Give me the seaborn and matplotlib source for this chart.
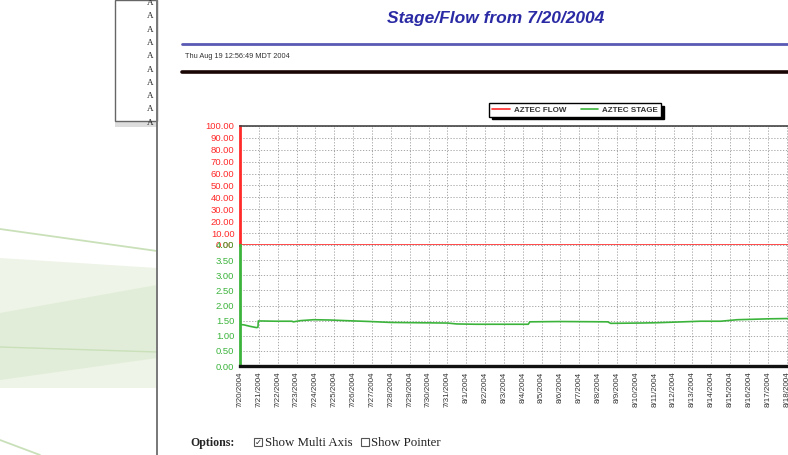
import pandas as pd
import seaborn as sns
import numpy as np
import matplotlib.pyplot as plt
import matplotlib.dates as mdates
from matplotlib.patches import Polygon, Rectangle
from matplotlib.ticker import FixedLocator

sns.set_style('white')
plt.rcParams['font.family'] = ['Liberation Sans', 'DejaVu Sans']

# stage readings (feet)
stage_times = ['2004-07-20 00:00', '2004-07-20 05:00', '2004-07-20 13:00', '2004-07-20 21:00',
               '2004-07-20 22:50', '2004-07-20 23:20', '2004-07-21 22:00', '2004-07-22 18:00',
               '2004-07-22 20:00', '2004-07-23 05:00', '2004-07-23 22:00', '2004-07-24 19:00',
               '2004-07-25 14:00', '2004-07-26 22:00', '2004-07-28 00:00', '2004-07-29 12:00',
               '2004-07-31 00:00', '2004-07-31 12:00', '2004-08-01 12:00', '2004-08-03 06:00',
               '2004-08-04 07:00', '2004-08-04 09:00', '2004-08-06 00:00', '2004-08-08 12:00',
               '2004-08-08 16:00', '2004-08-10 04:00', '2004-08-11 02:00', '2004-08-12 12:00',
               '2004-08-13 10:00', '2004-08-14 12:00', '2004-08-15 09:00', '2004-08-17 02:00',
               '2004-08-18 05:00', '2004-08-19 12:00']
stage_values = [1.37, 1.36, 1.31, 1.27, 1.28, 1.49, 1.48, 1.48,
                1.46, 1.50, 1.53, 1.52, 1.50, 1.47, 1.44, 1.43,
                1.42, 1.39, 1.38, 1.38, 1.38, 1.46, 1.47, 1.46,
                1.41, 1.42, 1.43, 1.46, 1.48, 1.48, 1.53, 1.56,
                1.57, 1.57]

flow_times = ['2004-07-20 00:00', '2004-08-19 12:00']
flow_values = [0.0, 0.0]

date_labels = ['7/20/2004', '7/21/2004', '7/22/2004', '7/23/2004', '7/24/2004', '7/25/2004',
               '7/26/2004', '7/27/2004', '7/28/2004', '7/29/2004', '7/30/2004', '7/31/2004',
               '8/1/2004', '8/2/2004', '8/3/2004', '8/4/2004', '8/5/2004', '8/6/2004',
               '8/7/2004', '8/8/2004', '8/9/2004', '8/10/2004', '8/11/2004', '8/12/2004',
               '8/13/2004', '8/14/2004', '8/15/2004', '8/16/2004', '8/17/2004', '8/18/2004']
flow_ticks = [0, 10, 20, 30, 40, 50, 60, 70, 80, 90, 100]
stage_ticks = [0, 0.5, 1.0, 1.5, 2.0, 2.5, 3.0, 3.5, 4.0]

df_stage = pd.DataFrame({'time': pd.to_datetime(stage_times), 'stage': stage_values})
df_flow = pd.DataFrame({'time': pd.to_datetime(flow_times), 'flow': flow_values})
tick_pos = [mdates.date2num(t) for t in pd.to_datetime(date_labels, format='%m/%d/%Y')]

W, H = 788, 455
fig = plt.figure(figsize=(W / 100, H / 100), dpi=100)


def box(x0, y0, x1, y1):
    # pixel box (top-left origin) -> figure rect
    return [x0 / W, 1 - y1 / H, (x1 - x0) / W, (y1 - y0) / H]


# page background, drawn in pixel coords
bg = fig.add_axes([0, 0, 1, 1], zorder=-5)
bg.set_xlim(0, W)
bg.set_ylim(H, 0)
bg.axis('off')

light = '#eef4e7'
mid = '#e1edd8'
swoosh = '#c9e0b9'
bg.add_patch(Polygon([(0, 258), (157, 268), (157, 388), (0, 388)], closed=True, color=light, lw=0))
bg.add_patch(Polygon([(0, 313), (157, 285), (157, 358), (0, 380)], closed=True, color=mid, lw=0))
bg.plot([0, 157], [229, 251], color=swoosh, lw=1.3)
bg.plot([0, 157], [347, 352], color=swoosh, lw=1.0)
bg.plot([0, 40], [440, 455], color=swoosh, lw=1.3)

# little frame with the station list
bg.add_patch(Rectangle((115, 121), 42, 6, color='#dddddd', lw=0))
bg.add_patch(Rectangle((115, 0), 42, 121, facecolor='white', edgecolor='#666666', lw=1))
for i in range(10):
    bg.text(153, 3 + i * 13.3, 'A', ha='right', va='center', fontsize=6.5,
            family='Liberation Serif', color='#222222')
bg.plot([157, 157], [0, H], color='#777777', lw=1.4)

bg.text(496, 19, 'Stage/Flow from 7/20/2004', ha='center', va='center', fontsize=12.5,
        fontweight='bold', style='italic', color='#2a2aa5')
bg.plot([182, W], [44, 44], color='#5a5ab4', lw=2)
bg.text(185, 57, 'Thu Aug 19 12:56:49 MDT 2004', ha='left', va='center', fontsize=5.3, color='#333333')
bg.plot([182, W], [71.5, 71.5], color='#1a0505', lw=2.6)

bg.text(190, 443, 'Options:', ha='left', va='center', fontsize=8.6, fontweight='bold',
        family='Liberation Serif')
bg.add_patch(Rectangle((254, 438), 8, 8, facecolor='white', edgecolor='#555555', lw=0.8))
bg.text(258, 442, '✓', ha='center', va='center', fontsize=6, family='DejaVu Sans')
bg.text(265, 443, 'Show Multi Axis', ha='left', va='center', fontsize=9.3, family='Liberation Serif',
        color='#222222')
bg.add_patch(Rectangle((361, 438), 8, 8, facecolor='white', edgecolor='#555555', lw=0.8))
bg.text(371, 443, 'Show Pointer', ha='left', va='center', fontsize=9.3, family='Liberation Serif',
        color='#222222')

# chart: flow on top half, stage on bottom half
x_left, x_right = 240, 240 + 30.5 * 18.85
ax_f = fig.add_axes(box(x_left, 126, x_right, 245))
ax_s = fig.add_axes(box(x_left, 245, x_right, 366), sharex=ax_f)

grid_kw = dict(color='#9a9a9a', lw=0.6, linestyle=(0, (1.5, 2)))
for ax in (ax_f, ax_s):
    ax.set_facecolor('none')
    ax.xaxis.set_major_locator(FixedLocator(tick_pos))
    ax.grid(True, **grid_kw)
    ax.spines['right'].set_visible(False)

sns.lineplot(data=df_flow, x='time', y='flow', ax=ax_f, color='#ff2a2a', lw=1.2, label='AZTEC FLOW', legend=False)
sns.lineplot(data=df_stage, x='time', y='stage', ax=ax_s, color='#3cb43c', lw=1.2, label='AZTEC STAGE', legend=False)

ax_f.set_xlim(pd.Timestamp('2004-07-20'), pd.Timestamp('2004-08-19 12:00'))
ax_f.set_ylim(0, 100)
ax_s.set_ylim(0, 4)

ax_f.set_yticks(flow_ticks)
ax_f.set_yticklabels([f'{v:.2f}' for v in flow_ticks])
ax_f.tick_params(axis='y', colors='#ff2a2a', labelsize=6.8, length=3, width=0.8, pad=1)
ax_f.tick_params(axis='x', length=0, labelbottom=False)
ax_s.set_yticks(stage_ticks)
ax_s.set_yticklabels([f'{v:.2f}' for v in stage_ticks])
ax_s.tick_params(axis='y', colors='#3cb43c', labelsize=6.8, length=3, width=0.8, pad=1)
ax_s.set_xticklabels(date_labels, rotation=90, fontsize=5.8, color='#333333')
ax_s.tick_params(axis='x', length=2, color='#333333', pad=2)

ax_f.spines['left'].set_color('#ff2a2a')
ax_f.spines['left'].set_linewidth(2)
ax_f.spines['top'].set_color('#444444')
ax_f.spines['top'].set_linewidth(1.2)
ax_f.spines['bottom'].set_visible(False)
ax_s.spines['left'].set_color('#3cb43c')
ax_s.spines['left'].set_linewidth(2)
ax_s.spines['top'].set_visible(False)
ax_s.spines['bottom'].set_color('#111111')
ax_s.spines['bottom'].set_linewidth(2.4)
ax_f.set_xlabel('')
ax_f.set_ylabel('')
ax_s.set_xlabel('')
ax_s.set_ylabel('')

handles = ax_f.get_lines()[:1] + ax_s.get_lines()[:1]
leg = fig.legend(handles, ['AZTEC FLOW', 'AZTEC STAGE'], ncol=2, loc='center',
                 bbox_to_anchor=(575 / W, 1 - 110 / H), fontsize=5.8, frameon=True,
                 fancybox=False, edgecolor='black', handlelength=2.2, handletextpad=0.5,
                 columnspacing=1.8, borderpad=0.35, shadow={'color': 'black', 'alpha': 1})
leg.get_frame().set_linewidth(1.0)
for t in leg.get_texts():
    t.set_fontweight('bold')
    t.set_color('#333333')

fig.savefig('out.png', dpi=100)
